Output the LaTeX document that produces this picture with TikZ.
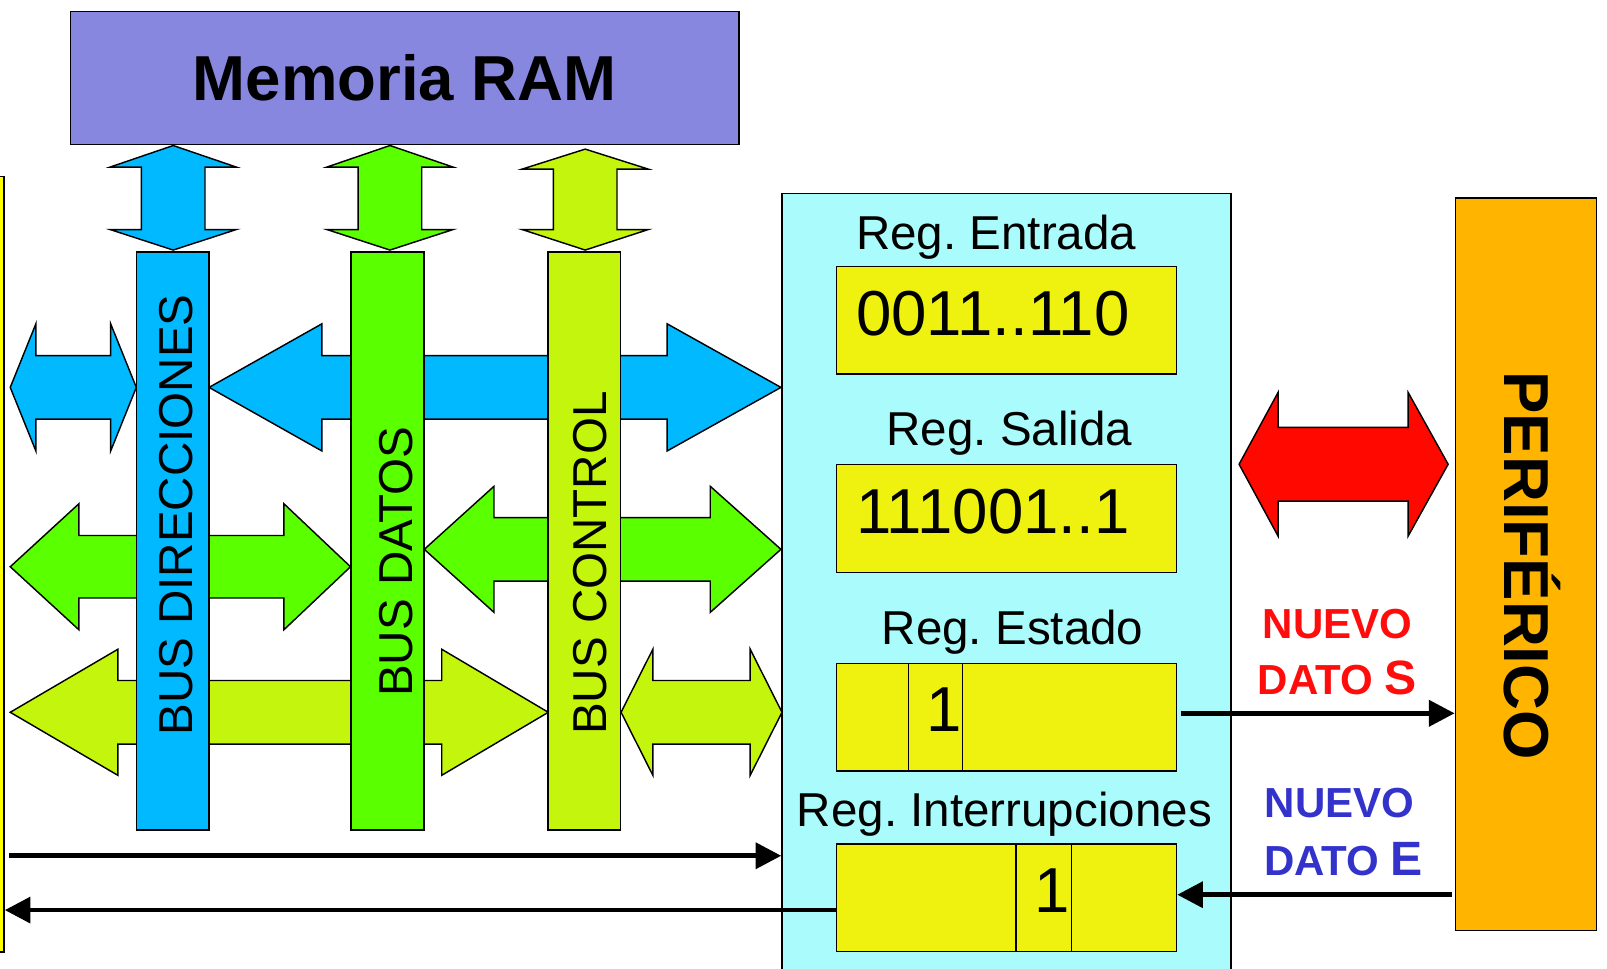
\documentclass[tikz,border=0pt]{standalone}
\usepackage{fontspec}
\setmainfont{Liberation Sans}
\usetikzlibrary{arrows.meta}
\definecolor{ramc}{HTML}{8787DF}
\definecolor{busblue}{HTML}{00B9FF}
\definecolor{busgreen}{HTML}{5AFF00}
\definecolor{busyg}{HTML}{C4F50C}
\definecolor{iocyan}{HTML}{AAFCFC}
\definecolor{regyel}{HTML}{EEF20E}
\definecolor{perior}{HTML}{FFB400}
\definecolor{redarr}{HTML}{FF0800}
\definecolor{cpuyel}{HTML}{FFFF00}
\definecolor{txtred}{HTML}{FF0D0D}
\definecolor{txtblue}{HTML}{3333CC}
% horizontal double arrow: style, left tip x, left base x, right base x, right tip x, yc, shaft half, head half
\newcommand\hdarrow[8]{\draw[#1] (#2,#6) -- (#3,#6-#8) -- (#3,#6-#7) -- (#4,#6-#7) -- (#4,#6-#8) -- (#5,#6) -- (#4,#6+#8) -- (#4,#6+#7) -- (#3,#6+#7) -- (#3,#6+#8) -- cycle;}
% vertical double arrow: style, xc, top tip y, top base y, bottom base y, bottom tip y, shaft half, head half
\newcommand\vdarrow[8]{\draw[#1] (#2,#3) -- (#2+#8,#4) -- (#2+#7,#4) -- (#2+#7,#5) -- (#2+#8,#5) -- (#2,#6) -- (#2-#8,#5) -- (#2-#7,#5) -- (#2-#7,#4) -- (#2-#8,#4) -- cycle;}
\frenchspacing
\begin{document}
\begin{tikzpicture}[x=0.5pt,y=-0.5pt,
  outl/.style={draw=black,line width=0.7pt},
  box/.style={outl,inner sep=0pt,rectangle},
  lbl/.style={inner sep=0pt,font=\fontsize{23.2}{28}\selectfont},
  bits/.style={inner sep=0pt,font=\fontsize{31}{36}\selectfont},
  nuevo/.style={inner sep=0pt,font=\bfseries\fontsize{20.5}{24}\selectfont},
  blk/.style={line width=2.3pt,-{Triangle[length=12.5pt,width=12.5pt]}},
  regbox/.style={box,fill=regyel,minimum width=166pt,minimum height=52.5pt},
  busbar/.style={box,minimum width=35.5pt,minimum height=282pt},
]
\useasboundingbox (0,0) rectangle (1568,945);
\clip (0,0) rectangle (1568,945);

% big boxes
\node[box,fill=cpuyel,minimum width=7pt,minimum height=378.5pt] (cpu) at (-3,550.5) {};
\node[box,fill=iocyan,minimum width=219pt,minimum height=385.5pt] (io) at (982,574.5) {};
\node[box,fill=perior,minimum width=69pt,minimum height=357.5pt] (peri) at (1489,550.5) {};
\node[box,fill=ramc,minimum width=326pt,minimum height=65pt,
      font=\bfseries\fontsize{31}{36}\selectfont] (ram) at (395,76) {Memoria RAM};

% horizontal bus arrows
\hdarrow{outl,fill=busblue}{10}{35}{108}{133}{378}{31}{62}
\hdarrow{outl,fill=busblue}{204}{314}{651}{762}{378}{31}{62}
\hdarrow{outl,fill=busgreen}{10}{77}{277}{342}{553}{30.5}{61.5}
\hdarrow{outl,fill=busgreen}{414}{482}{693}{762}{536}{31}{61.5}
\hdarrow{outl,fill=busyg}{10}{115}{431}{535}{695}{31}{61.5}
\hdarrow{outl,fill=busyg}{606}{637}{732}{763}{695}{31}{61.5}

% vertical arrows to RAM
\vdarrow{outl,fill=busblue}{169}{142}{163}{224}{244}{31}{61.5}
\vdarrow{outl,fill=busgreen}{380.5}{142}{163}{224}{244}{31}{61.5}
\vdarrow{outl,fill=busyg}{571}{145.5}{165}{224}{244}{31}{61.5}

% bus bars
\node[busbar,fill=busblue] (bdir) at (168.5,528) {};
\node[busbar,fill=busgreen] (bdat) at (378,528) {};
\node[busbar,fill=busyg] (bctl) at (570,528) {};
\node[lbl,rotate=90,anchor=base] (tdir) at (188,502.5) {BUS DIRECCIONES};
\node[lbl,rotate=90,anchor=base] (tdat) at (402,548) {BUS DATOS};
\node[lbl,rotate=90,anchor=base] (tctl) at (592,549.5) {BUS CONTROL};

% registers
\node[lbl,anchor=base] (l1) at (972,243) {Reg. Entrada};
\node[regbox] (r1) at (982,312.5) {};
\node[bits,anchor=base west] (b1) at (835,327) {0011..110};
\node[lbl,anchor=base] (l2) at (985,435) {Reg. Salida};
\node[regbox] (r2) at (982,506) {};
\node[bits,anchor=base west] (b2) at (835,521) {111001..1};
\node[lbl,anchor=base] (l3) at (988,629) {Reg. Estado};
\node[regbox] (r3) at (982,700) {};
\draw[outl] ([xshift=35.5pt]r3.north west) -- ([xshift=35.5pt]r3.south west);
\draw[outl] ([xshift=62pt]r3.north west) -- ([xshift=62pt]r3.south west);
\node[bits,anchor=base] (b3) at (921,714) {1};
\node[lbl,anchor=base] (l4) at (980,806) {Reg. Interrupciones};
\node[regbox] (r4) at (982,876) {};
\draw[outl] ([xshift=88pt]r4.north west) -- ([xshift=88pt]r4.south west);
\draw[outl] ([xshift=115pt]r4.north west) -- ([xshift=115pt]r4.south west);
\node[bits,anchor=base] (b4) at (1027,890) {1};

% red arrow
\hdarrow{outl,fill=redarr}{1209}{1247}{1374}{1413}{453}{36}{70}

% peripheral label
\node[inner sep=0pt,rotate=-90,anchor=base,font=\bfseries\fontsize{31}{36}\selectfont] (tperi) at (1468,552) {PERIFÉRICO};

% status labels
\node[nuevo,text=txtred,anchor=base] (ns1) at (1305,623) {NUEVO};
\node[nuevo,text=txtred,anchor=base] (ns2) at (1305,678) {DATO {\fontsize{23.5}{28}\selectfont S}};
\node[nuevo,text=txtblue,anchor=base] (ne1) at (1307,798) {NUEVO};
\node[nuevo,text=txtblue,anchor=base] (ne2) at (1311,854) {DATO {\fontsize{23.5}{28}\selectfont E}};

% black connectors
\coordinate (ya) at (0,835);
\coordinate (yb) at (0,888);
\coordinate (yc) at (0,696);
\coordinate (yd) at (0,873);
\draw[blk] ([xshift=2pt]cpu.east |- ya) -- (io.west |- ya);
\draw[blk] (r4.west |- yb) -- (cpu.east |- yb);
\draw[blk] ([xshift=2pt]r3.east |- yc) -- (peri.west |- yc);
\draw[blk] ([xshift=-1.5pt]peri.west |- yd) -- (r4.east |- yd);
\end{tikzpicture}
\end{document}
